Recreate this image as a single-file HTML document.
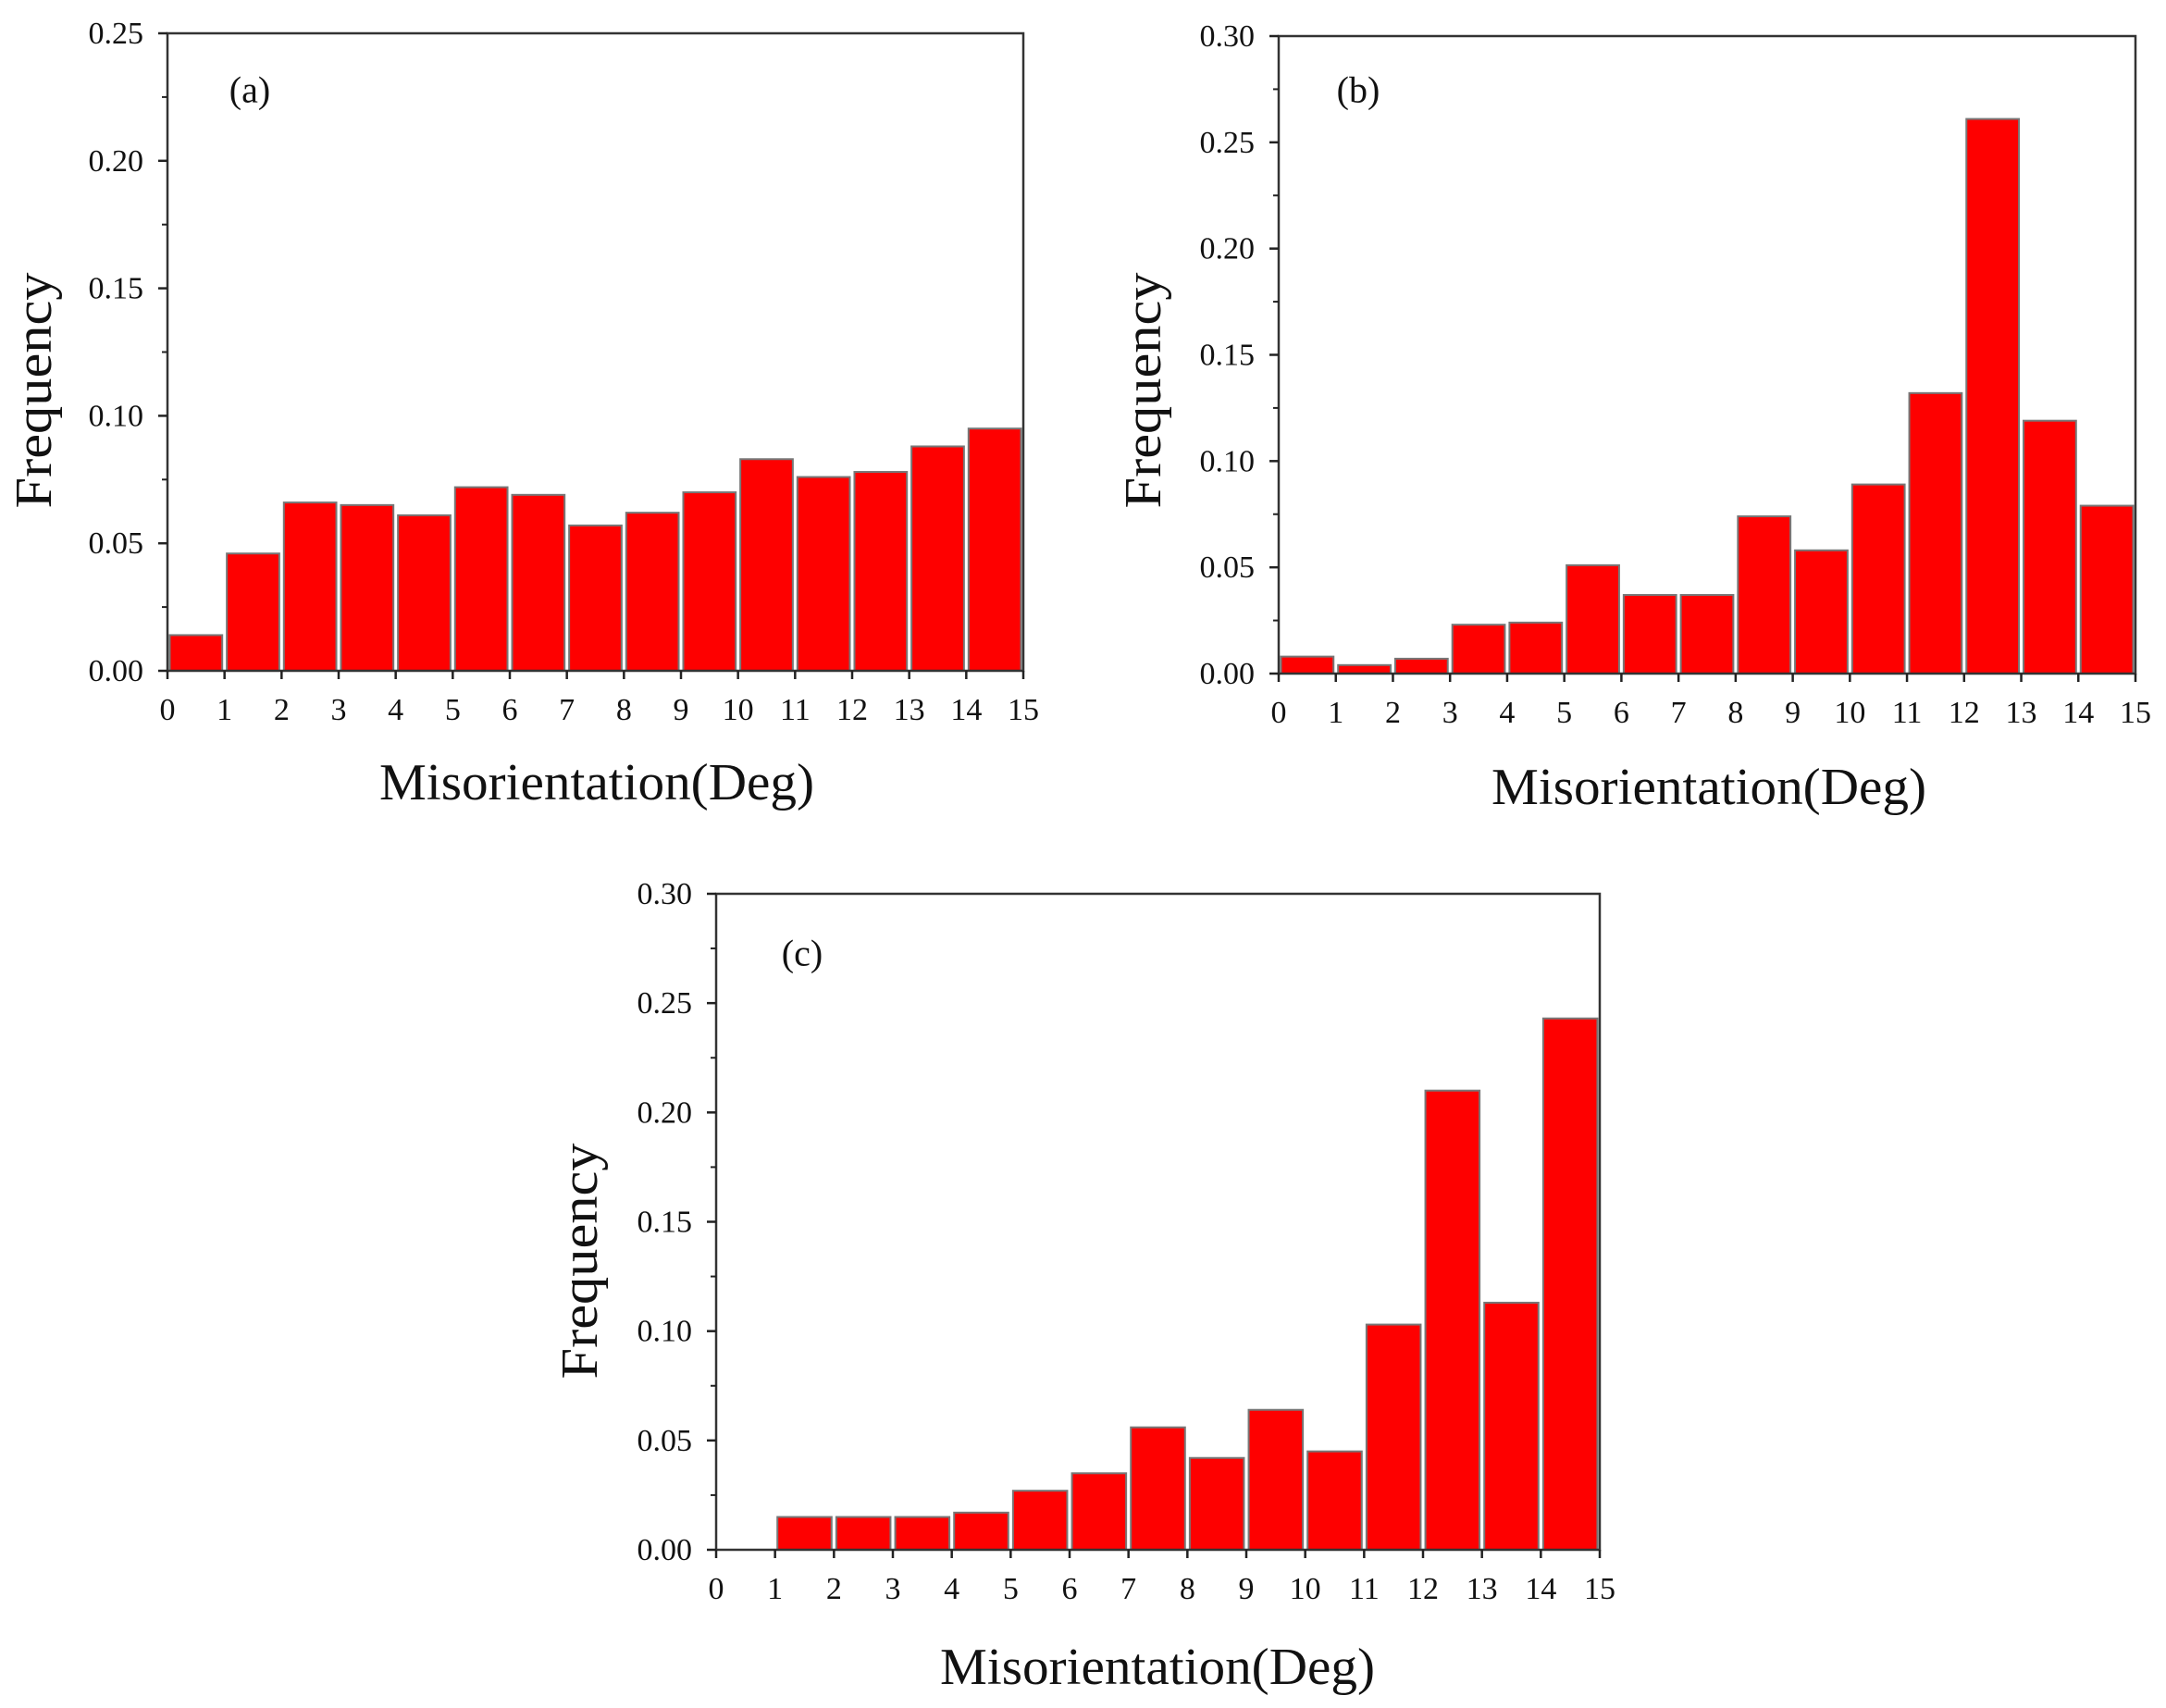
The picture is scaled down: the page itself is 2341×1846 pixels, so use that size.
<!DOCTYPE html>
<html><head><meta charset="utf-8"><style>
html,body{margin:0;padding:0;background:#fff;}
svg{display:block;font-family:"Liberation Serif",serif;}
</style></head><body>
<svg id="fig" width="2341" height="1846" viewBox="0 0 2341 1846" xmlns="http://www.w3.org/2000/svg"></svg>
<script>
const categories = [0,1,2,3,4,5,6,7,8,9,10,11,12,13,14];
const xTickLabels = ["0","1","2","3","4","5","6","7","8","9","10","11","12","13","14","15"];
const valuesA = [0.014,0.046,0.066,0.065,0.061,0.072,0.069,0.057,0.062,0.070,0.083,0.076,0.078,0.088,0.095];
const valuesB = [0.008,0.004,0.007,0.023,0.024,0.051,0.037,0.037,0.074,0.058,0.089,0.132,0.261,0.119,0.079];
const valuesC = [0,0.015,0.015,0.015,0.017,0.027,0.035,0.056,0.042,0.064,0.045,0.103,0.210,0.113,0.243];
const yTicksA = ["0.00","0.05","0.10","0.15","0.20","0.25"];
const yTicksBC = ["0.00","0.05","0.10","0.15","0.20","0.25","0.30"];

const NS="http://www.w3.org/2000/svg";
const svg=document.getElementById('fig');
function mk(tag,attrs,parent){const e=document.createElementNS(NS,tag);for(const k in attrs)e.setAttribute(k,attrs[k]);(parent||svg).appendChild(e);return e;}

const panels=[
 {id:'a',L:181,R:1106,T:36,B:725,ymax:0.25,vals:valuesA,yt:yTicksA,fx:37,fy:422,mx:645,my:846,lx:270,ly:97},
 {id:'b',L:1382,R:2308,T:39,B:728,ymax:0.30,vals:valuesB,yt:yTicksBC,fx:1236,fy:422,mx:1847,my:851,lx:1468,ly:97},
 {id:'c',L:774,R:1729,T:966,B:1675,ymax:0.30,vals:valuesC,yt:yTicksBC,fx:627,fy:1363,mx:1251,my:1802,lx:867,ly:1030}
];

panels.forEach(p=>{
  const g=mk('g',{});
  
  
  const xs=v=>p.L+(v/15)*(p.R-p.L);
  const ys=v=>p.B-(v/p.ymax)*(p.B-p.T);
  categories.forEach((c,i)=>{
    const v=p.vals[i]; if(v<=0) return;
    const x0=xs(c+0.04), x1=xs(c+0.96);
    const r=mk('rect',{x:x0,y:ys(v),width:x1-x0,height:p.B-ys(v),fill:'#fe0000',stroke:'#777','stroke-width':2},g);
    
    
  });
  const fr=mk('rect',{x:p.L,y:p.T,width:p.R-p.L,height:p.B-p.T,fill:'none',stroke:'#333','stroke-width':2.5},g);
  
  
  xTickLabels.forEach((t,i)=>{
    const x=xs(i);
    mk('line',{x1:x,y1:p.B,x2:x,y2:p.B+9,stroke:'#222','stroke-width':2.5},g);
    const tx=mk('text',{x:x,y:p.B+53,'text-anchor':'middle','font-size':34,fill:'#111'},g);
    tx.textContent=t;
    
    
  });
  const step=0.05;
  p.yt.forEach((t,i)=>{
    const y=ys(i*step);
    mk('line',{x1:p.L-10,y1:y,x2:p.L,y2:y,stroke:'#222','stroke-width':2.5},g);
    if(i<p.yt.length-1){const ym=ys(i*step+step/2);mk('line',{x1:p.L-6,y1:ym,x2:p.L,y2:ym,stroke:'#222','stroke-width':2},g);}
    const tx=mk('text',{x:p.L-26,y:y+11,'text-anchor':'end','font-size':34,fill:'#111'},g);
    tx.textContent=t;
    
    
  });
  const yt=mk('text',{x:p.fx,y:p.fy,'text-anchor':'middle','dominant-baseline':'central','font-size':56,fill:'#111',transform:`rotate(-90 ${p.fx} ${p.fy})`,textLength:255,lengthAdjust:'spacingAndGlyphs'},g);
  yt.textContent='Frequency';
  
  
  const xt=mk('text',{x:p.mx,y:p.my,'text-anchor':'middle','dominant-baseline':'central','font-size':56,fill:'#111',textLength:470,lengthAdjust:'spacingAndGlyphs'},g);
  xt.textContent='Misorientation(Deg)';
  
  
  const lb=mk('text',{x:p.lx,y:p.ly,'text-anchor':'middle','dominant-baseline':'central','font-size':40,fill:'#111'},g);
  lb.textContent='('+p.id+')';
  
  
});
</script>
</body></html>
